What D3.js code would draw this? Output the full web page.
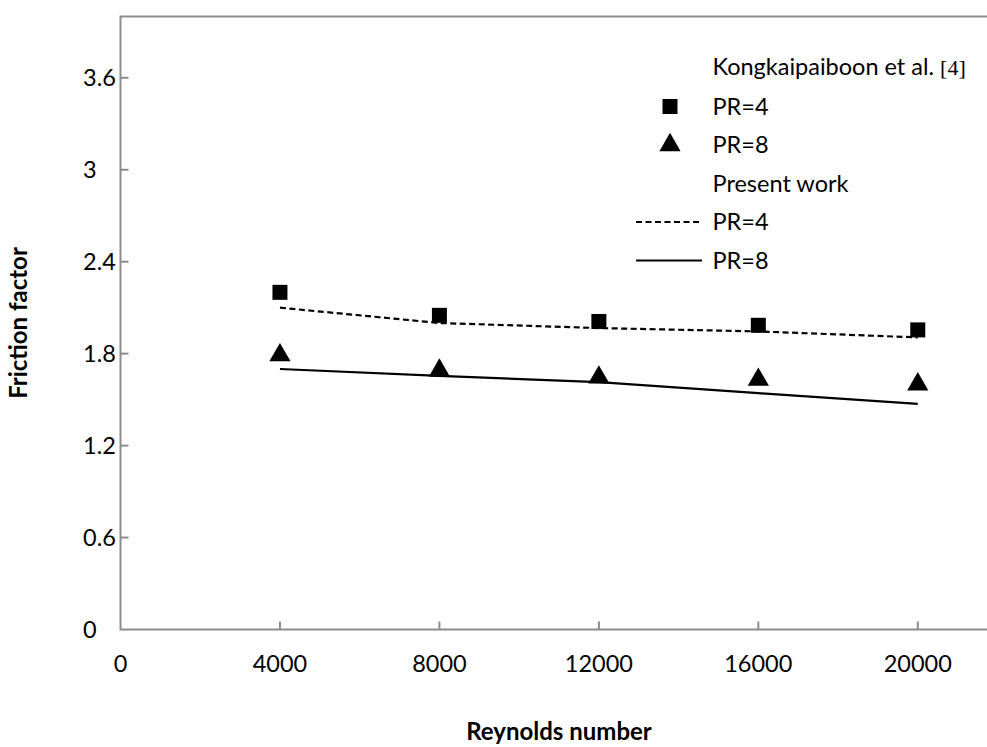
<!DOCTYPE html>
<meta charset="utf-8">
<title>Friction factor</title>
<body style="margin:0;background:#fff;overflow:hidden;"></body>
<div id="chart"></div>
<script src="https://d3js.org/d3.v7.min.js"></script>
<script>

  // data
  const reynolds = [4000, 8000, 12000, 16000, 20000];
  const expPR4 = [2.2, 2.05, 2.01, 1.985, 1.955];
  const expPR8 = [1.79, 1.69, 1.645, 1.63, 1.60];
  const simPR4 = [2.10, 2.0, 1.967, 1.945, 1.906];
  const simPR8 = [1.70, 1.655, 1.614, 1.542, 1.472];
  const xTicks = [0, 4000, 8000, 12000, 16000, 20000];
  const yTicks = [0, 0.6, 1.2, 1.8, 2.4, 3, 3.6];

  const W = 987, H = 747;
  const font = "Lato, 'Open Sans', sans-serif";
  const fs = 23.5;

  const svg = d3.select("#chart").append("svg")
    .attr("width", W).attr("height", H)
    .style("font-family", font);

  // x axis goes on past the right edge (the picture is cropped)
  const x = d3.scaleLinear().domain([0, 22000]).range([120.5, 997.5]);
  const y = d3.scaleLinear().domain([0, 4]).range([629.5, 16.5]);

  const axisCol = "#8c8c8c";

  // frame: left, top, bottom
  svg.append("path")
    .attr("d", `M${x(22000)},${y(4)}H${x(0)}V${y(0)}H${x(22000)}`)
    .attr("fill", "none").attr("stroke", axisCol).attr("stroke-width", 2);

  // ticks pointing inward
  svg.selectAll(".xt").data(xTicks.slice(1)).join("line")
    .attr("x1", d => x(d)).attr("x2", d => x(d))
    .attr("y1", y(0)).attr("y2", y(0) - 8)
    .attr("stroke", axisCol).attr("stroke-width", 2);
  svg.selectAll(".yt").data(yTicks.slice(1)).join("line")
    .attr("x1", x(0)).attr("x2", x(0) + 8)
    .attr("y1", d => y(d)).attr("y2", d => y(d))
    .attr("stroke", axisCol).attr("stroke-width", 2);

  svg.selectAll(".xl").data(xTicks).join("text")
    .attr("x", d => x(d)).attr("y", 664).attr("dy", "0.35em")
    .attr("text-anchor", "middle").attr("font-size", fs).attr("fill", "#000")
    .text(d => d);
  svg.selectAll(".yl").data(yTicks).join("text")
    .attr("x", 83).attr("y", d => y(d)).attr("dy", "0.35em")
    .attr("font-size", fs).attr("fill", "#000")
    .text(d => d);

  // axis titles
  svg.append("text")
    .attr("x", 559).attr("y", 740)
    .attr("text-anchor", "middle").attr("font-size", 24).attr("font-weight", "bold")
    .text("Reynolds number");
  svg.append("text")
    .attr("transform", "translate(19,323) rotate(-90)").attr("dy", "0.35em")
    .attr("text-anchor", "middle").attr("font-size", 24).attr("font-weight", "bold")
    .text("Friction factor");

  // lines
  const line = d3.line().x((d, i) => x(reynolds[i])).y(d => y(d));
  svg.append("path").datum(simPR4).attr("d", line)
    .attr("fill", "none").attr("stroke", "#000").attr("stroke-width", 2.2)
    .attr("stroke-dasharray", "6,3.5");
  svg.append("path").datum(simPR8).attr("d", line)
    .attr("fill", "none").attr("stroke", "#000").attr("stroke-width", 2.2);

  // markers
  const square = d3.symbol().type(d3.symbolSquare).size(225);
  const tri = d3.symbol().type(d3.symbolTriangle).size(195);
  svg.selectAll(".sq").data(expPR4).join("path")
    .attr("d", square)
    .attr("transform", (d, i) => `translate(${x(reynolds[i])},${y(d)})`)
    .attr("fill", "#000");
  svg.selectAll(".tr").data(expPR8).join("path")
    .attr("d", tri)
    .attr("transform", (d, i) => `translate(${x(reynolds[i])},${y(d)})`)
    .attr("fill", "#000");

  // legend
  const lg = svg.append("g");
  const tx = 712.5, rows = [67, 106.5, 145, 183.5, 222, 260.5];
  const t0 = lg.append("text").attr("x", tx).attr("y", rows[0]).attr("dy", "0.35em")
    .attr("font-size", fs);
  t0.append("tspan").text("Kongkaipaiboon et al. ");
  t0.append("tspan").attr("font-family", "'Liberation Serif', serif").attr("font-size", 22).text("[4]");
  lg.append("path").attr("d", d3.symbol().type(d3.symbolSquare).size(225))
    .attr("transform", `translate(670,${rows[1]})`);
  lg.append("path").attr("d", tri)
    .attr("transform", `translate(670,${rows[2]})`);
  lg.append("line").attr("x1", 636).attr("x2", 702).attr("y1", rows[4]).attr("y2", rows[4])
    .attr("stroke", "#000").attr("stroke-width", 2.2).attr("stroke-dasharray", "6,3.5");
  lg.append("line").attr("x1", 636).attr("x2", 702).attr("y1", rows[5]).attr("y2", rows[5])
    .attr("stroke", "#000").attr("stroke-width", 2.2);
  const labels = [null, "PR=4", "PR=8", "Present work", "PR=4", "PR=8"];
  labels.forEach((t, i) => {
    if (!t) return;
    lg.append("text").attr("x", tx).attr("y", rows[i]).attr("dy", "0.35em")
      .attr("font-size", fs).text(t);
  });

</script>
